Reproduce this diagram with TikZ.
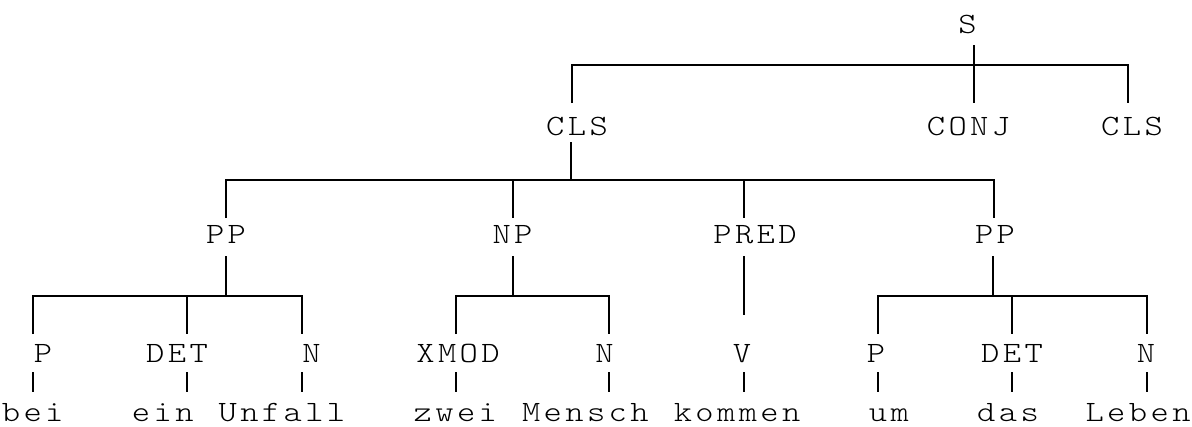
\documentclass[tikz,border=0pt]{standalone}
\usepackage{fontspec}
\usepackage{graphicx}
\newfontfamily\treefont{Latin Modern Mono Light}
% every character sits in a fixed-width cell, slightly widened
\newlength\cellw
\setlength\cellw{21.673pt}
\makeatletter
\def\spaced#1{\spaced@i#1\relax}
\def\spaced@i#1{\ifx\relax#1\else\makebox[\cellw][c]{\scalebox{1.18}[1]{#1}}\expandafter\spaced@i\fi}
\makeatother
\begin{document}
\begin{tikzpicture}[x=1pt,y=-1pt,
  lbl/.style={inner sep=0pt,anchor=base,font=\treefont\fontsize{29.5}{30}\selectfont},
  word/.style={inner sep=0pt,anchor=base west,font=\treefont\fontsize{29.5}{30}\selectfont},
  edge/.style={line width=1.8pt,line join=miter}]
\useasboundingbox (0,0) rectangle (1192,426);

% ---- labels ----
\node[lbl] (s)     at (967.5,33)  {\spaced{S}};
\node[lbl] (cls1)  at (577,135)   {\spaced{CLS}};
\node[lbl] (conj)  at (968.5,135) {\spaced{CONJ}};
\node[lbl] (cls2)  at (1132,135)  {\spaced{CLS}};
\node[lbl] (pp1)   at (226,243)   {\spaced{PP}};
\node[lbl] (np)    at (512.5,243) {\spaced{NP}};
\node[lbl] (pred)  at (755,243)   {\spaced{PRED}};
\node[lbl] (pp2)   at (995,243)   {\spaced{PP}};
\node[lbl] (p1)    at (43,362)    {\spaced{P}};
\node[lbl] (det1)  at (177,362)   {\spaced{DET}};
\node[lbl] (n1)    at (311.5,362) {\spaced{N}};
\node[lbl] (xmod)  at (458,362)   {\spaced{XMOD}};
\node[lbl] (n2)    at (604.5,362) {\spaced{N}};
\node[lbl] (v)     at (742,362)   {\spaced{V}};
\node[lbl] (p2)    at (876,362)   {\spaced{P}};
\node[lbl] (det2)  at (1012,362)  {\spaced{DET}};
\node[lbl] (n3)    at (1146,362)  {\spaced{N}};

% ---- words, on the character grid ----
\node[word] (w1) at (0*21.673,421)  {\spaced{bei}};
\node[word] (w2) at (6*21.673,421)  {\spaced{ein}};
\node[word] (w3) at (10*21.673,421) {\spaced{Unfall}};
\node[word] (w4) at (19*21.673,421) {\spaced{zwei}};
\node[word] (w5) at (24*21.673,421) {\spaced{Mensch}};
\node[word] (w6) at (31*21.673,421) {\spaced{kommen}};
\node[word] (w7) at (40*21.673,421) {\spaced{um}};
\node[word] (w8) at (45*21.673,421) {\spaced{das}};
\node[word] (w9) at (50*21.673,421) {\spaced{Leben}};

% ---- S ----
\coordinate (s-top) at (974,45);
\coordinate (s-bot) at (974,103);
\coordinate (s-l)   at (572,103);
\coordinate (s-lj)  at (572,65);
\coordinate (s-rj)  at (1128,65);
\coordinate (s-r)   at (1128,103);
\draw[edge] (s-top) -- (s-bot);
\draw[edge] (s-l) -- (s-lj) -- (s-rj) -- (s-r);

% ---- CLS ----
\coordinate (c-top) at (571,142);
\coordinate (c-j)   at (571,180);
\coordinate (c-l)   at (226,218);
\coordinate (c-lj)  at (226,180);
\coordinate (c-rj)  at (994,180);
\coordinate (c-r)   at (994,218);
\coordinate (c-m1j) at (513,180);
\coordinate (c-m1)  at (513,218);
\coordinate (c-m2j) at (744,180);
\coordinate (c-m2)  at (744,218);
\draw[edge] (c-top) -- (c-j);
\draw[edge] (c-l) -- (c-lj) -- (c-rj) -- (c-r);
\draw[edge] (c-m1j) -- (c-m1);
\draw[edge] (c-m2j) -- (c-m2);

% ---- PP (left) ----
\coordinate (pa-top) at (226,256);
\coordinate (pa-j)   at (226,296);
\coordinate (pa-l)   at (33,334);
\coordinate (pa-lj)  at (33,296);
\coordinate (pa-rj)  at (302,296);
\coordinate (pa-r)   at (302,334);
\coordinate (pa-mj)  at (187,296);
\coordinate (pa-m)   at (187,334);
\draw[edge] (pa-top) -- (pa-j);
\draw[edge] (pa-l) -- (pa-lj) -- (pa-rj) -- (pa-r);
\draw[edge] (pa-mj) -- (pa-m);

% ---- NP ----
\coordinate (np-top) at (513,256);
\coordinate (np-j)   at (513,296);
\coordinate (np-l)   at (456,334);
\coordinate (np-lj)  at (456,296);
\coordinate (np-rj)  at (609,296);
\coordinate (np-r)   at (609,334);
\draw[edge] (np-top) -- (np-j);
\draw[edge] (np-l) -- (np-lj) -- (np-rj) -- (np-r);

% ---- PRED ----
\coordinate (pr-top) at (744,256);
\coordinate (pr-bot) at (744,315);
\draw[edge] (pr-top) -- (pr-bot);

% ---- PP (right) ----
\coordinate (pb-top) at (993,256);
\coordinate (pb-j)   at (993,296);
\coordinate (pb-l)   at (878,334);
\coordinate (pb-lj)  at (878,296);
\coordinate (pb-rj)  at (1147,296);
\coordinate (pb-r)   at (1147,334);
\coordinate (pb-mj)  at (1012,296);
\coordinate (pb-m)   at (1012,334);
\draw[edge] (pb-top) -- (pb-j);
\draw[edge] (pb-l) -- (pb-lj) -- (pb-rj) -- (pb-r);
\draw[edge] (pb-mj) -- (pb-m);

% ---- ticks from part-of-speech tags to words ----
\foreach \i/\x in {1/33,2/187,3/302,4/456,5/609,6/744,7/878,8/1012,9/1147}{
  \coordinate (t\i-a) at (\x,372);
  \coordinate (t\i-b) at (\x,392);
  \draw[edge] (t\i-a) -- (t\i-b);
}
\end{tikzpicture}
\end{document}
